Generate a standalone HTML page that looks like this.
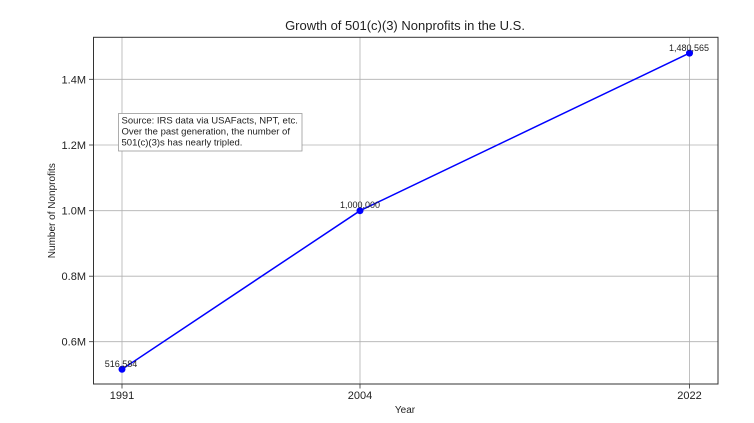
<!DOCTYPE html>
<html><head><meta charset="utf-8"><style>
html,body{margin:0;padding:0;background:#fff;}
svg{display:block;font-family:"Liberation Sans","DejaVu Sans",sans-serif;}
</style></head><body>
<svg width="754" height="423" viewBox="0 0 754 423" xmlns="http://www.w3.org/2000/svg">
<rect width="754" height="423" fill="#fff"/>
<g stroke="#b0b0b0" stroke-width="0.8">
<line x1="122" y1="37" x2="122" y2="384"/>
<line x1="360" y1="37" x2="360" y2="384"/>
<line x1="689.5" y1="37" x2="689.5" y2="384"/>
<line x1="93.5" y1="79.3" x2="718" y2="79.3"/>
<line x1="93.5" y1="145" x2="718" y2="145"/>
<line x1="93.5" y1="210.7" x2="718" y2="210.7"/>
<line x1="93.5" y1="276.2" x2="718" y2="276.2"/>
<line x1="93.5" y1="341.7" x2="718" y2="341.7"/>
</g>
<rect x="93.5" y="37.3" width="624.5" height="346.7" fill="none" stroke="#333" stroke-width="1"/>
<g stroke="#333" stroke-width="0.8">
<line x1="89" y1="79.3" x2="93.5" y2="79.3"/><line x1="89" y1="145" x2="93.5" y2="145"/>
<line x1="89" y1="210.7" x2="93.5" y2="210.7"/><line x1="89" y1="276.2" x2="93.5" y2="276.2"/>
<line x1="89" y1="341.7" x2="93.5" y2="341.7"/>
<line x1="122" y1="384" x2="122" y2="388.5"/><line x1="360" y1="384" x2="360" y2="388.5"/><line x1="689.5" y1="384" x2="689.5" y2="388.5"/>
</g>
<g font-size="11" fill="#222" text-anchor="end">
<text x="86" y="83.3">1.4M</text><text x="86" y="149">1.2M</text><text x="86" y="214.7">1.0M</text>
<text x="86" y="280.2">0.8M</text><text x="86" y="345.7">0.6M</text>
</g>
<g font-size="11" fill="#222" text-anchor="middle">
<text x="122" y="399">1991</text><text x="360" y="399">2004</text><text x="689.5" y="399">2022</text>
</g>
<text x="405" y="413" font-size="10" text-anchor="middle" fill="#222">Year</text>
<text transform="translate(55,210.7) rotate(-90)" font-size="10" text-anchor="middle" fill="#222">Number of Nonprofits</text>
<text x="405" y="30" font-size="13" text-anchor="middle" fill="#222">Growth of 501(c)(3) Nonprofits in the U.S.</text>
<polyline points="122,369.3 360,210.7 689.5,53.1" fill="none" stroke="#0000ff" stroke-width="1.5"/>
<g fill="#0000ff"><circle cx="122" cy="369.3" r="3.5"/><circle cx="360" cy="210.7" r="3.5"/><circle cx="689.5" cy="53.1" r="3.5"/></g>
<g font-size="9" fill="#222" text-anchor="middle">
<text x="121" y="367">516,584</text><text x="360" y="208">1,000,000</text><text x="689" y="51">1,480,565</text>
</g>
<rect x="118.5" y="113.5" width="183.5" height="37.5" fill="#fff" stroke="#999" stroke-width="0.8"/>
<g font-size="9.5" fill="#222">
<text x="121.5" y="123.5">Source: IRS data via USAFacts, NPT, etc.</text>
<text x="121.5" y="134.5">Over the past generation, the number of</text>
<text x="121.5" y="145.5">501(c)(3)s has nearly tripled.</text>
</g>
</svg>
</body></html>
